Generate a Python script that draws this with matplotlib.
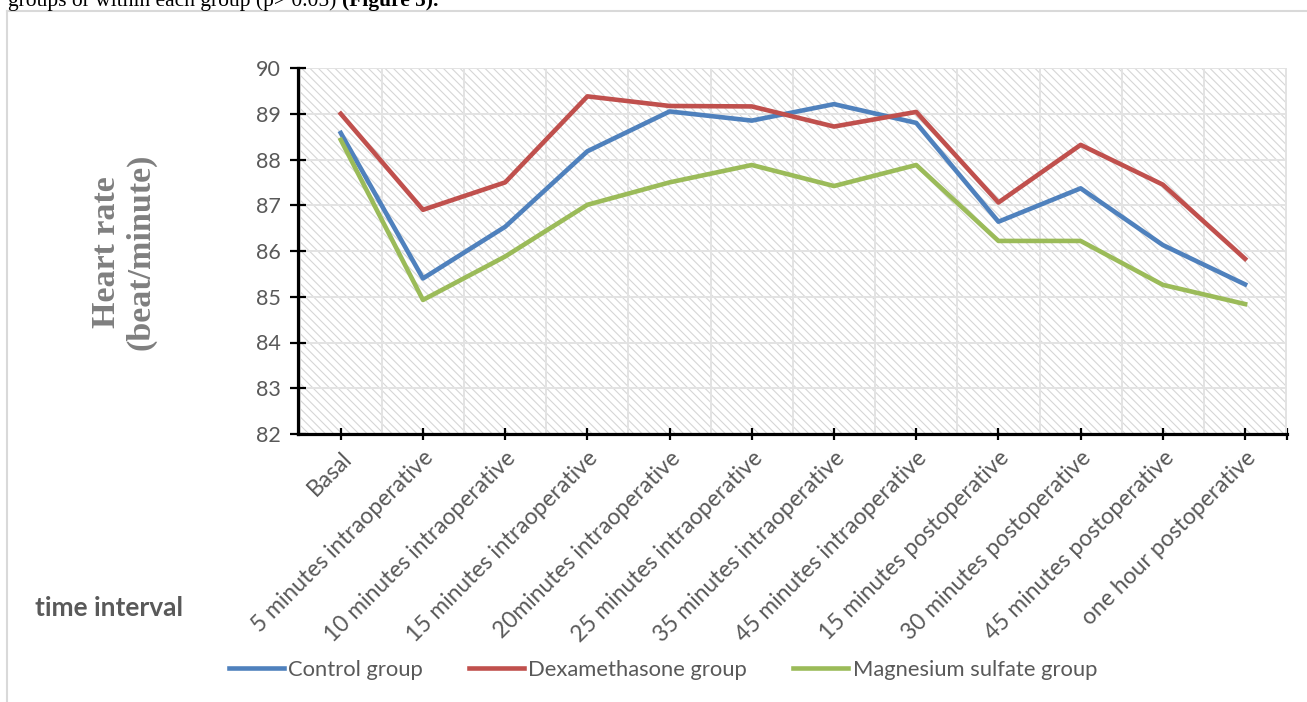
import numpy as np
import matplotlib.pyplot as plt
from matplotlib.patches import Rectangle
from matplotlib.lines import Line2D

categories = ['Basal', '5 minutes intraoperative', '10 minutes intraoperative',
              '15 minutes intraoperative', '20minutes intraoperative',
              '25 minutes intraoperative', '35 minutes intraoperative',
              '45 minutes intraoperative', '15 minutes postoperative',
              '30 minutes postoperative', '45 minutes postoperative',
              'one hour postoperative']
control = [88.58, 85.40, 86.53, 88.18, 89.05, 88.85, 89.21, 88.80, 86.64, 87.37, 86.13, 85.27]
dexa = [89.00, 86.90, 87.50, 89.38, 89.17, 89.16, 88.72, 89.04, 87.06, 88.32, 87.45, 85.83]
magnesium = [88.43, 84.93, 85.88, 87.01, 87.50, 87.88, 87.42, 87.88, 86.22, 86.22, 85.26, 84.84]
y_ticks = [82, 83, 84, 85, 86, 87, 88, 89, 90]

plt.rcParams['font.family'] = ['Lato', 'DejaVu Sans']
plt.rcParams['hatch.linewidth'] = 0.8

fig = plt.figure(figsize=(13.07, 7.02), dpi=100)
ax = fig.add_axes([298 / 1307, 1 - 434 / 702, (1287 - 298) / 1307, (434 - 68) / 702])

# hatched plot background
bg = Rectangle((0, 0), 1, 1, transform=ax.transAxes, facecolor='white',
               edgecolor='#d6d6d6', hatch='\\\\\\\\', linewidth=0, zorder=0)
ax.add_patch(bg)

x = np.arange(len(categories))
ax.plot(x, control, color='#4F81BD', lw=3.3, label='Control group', zorder=3)
ax.plot(x, dexa, color='#C0504D', lw=3.3, label='Dexamethasone group', zorder=3)
ax.plot(x, magnesium, color='#9BBB59', lw=3.3, label='Magnesium sulfate group', zorder=3)

ax.set_xlim(-0.52, 11.51)
ax.set_ylim(82, 90)

ax.set_yticks(y_ticks)
ax.set_xticks(list(x) + [11.51])
ax.set_xticklabels(categories + [''], rotation=45, ha='right', rotation_mode='anchor')
ax.set_xticks(np.arange(-0.5, 11.6, 0.5), minor=True)

ax.set_axisbelow(True)
ax.grid(axis='y', which='major', color='#e3e3e3', lw=1.4, zorder=1)
ax.grid(axis='x', which='minor', color='#e3e3e3', lw=1.4, zorder=1)
ax.grid(axis='x', which='major', visible=False)

for side in ['top', 'right']:
    ax.spines[side].set_visible(False)
for side in ['left', 'bottom']:
    ax.spines[side].set_linewidth(2.3)
    ax.spines[side].set_color('black')

ax.tick_params(axis='y', direction='inout', length=11, width=1.6, pad=7,
               labelsize=15.5, labelcolor='#595959')
ax.tick_params(axis='x', direction='inout', length=9, width=1.6, pad=5,
               labelsize=16.5, labelcolor='#595959')
ax.tick_params(axis='x', which='minor', length=0)

fig.text(124 / 1307, 1 - 252 / 702, 'Heart rate\n(beat/minute)', rotation=90,
         ha='center', va='center', fontsize=24.5, fontweight='bold',
         family='Liberation Serif', color='#7f7f7f', linespacing=1.15)
fig.text(109 / 1307, 1 - 608 / 702, 'time interval', ha='center', va='center',
         fontsize=19, fontweight='bold', color='#595959')

fig.legend(loc='center', bbox_to_anchor=(663 / 1307, 1 - 670 / 702), ncol=3,
           frameon=False, fontsize=15.8, handlelength=2.5, handletextpad=0.2,
           columnspacing=2.1, labelcolor='#595959')

# chart frame and the caption line above it
fig.add_artist(Line2D([7 / 1307, 7 / 1307], [0, 1 - 11 / 702], color='#d9d9d9', lw=1.5))
fig.add_artist(Line2D([7 / 1307, 1], [1 - 11 / 702, 1 - 11 / 702], color='#d9d9d9', lw=1.5))
t1 = fig.text(8 / 1307, 1 - 11 / 702, 'groups or within each group (p> 0.05) ',
              ha='left', va='bottom', fontsize=15.5, family='Liberation Serif', color='black')
fig.add_artist(plt.Annotation('(Figure 5).', xy=(1, 0), xycoords=t1, ha='left', va='bottom',
                              fontsize=15.5, family='Liberation Serif', fontweight='bold',
                              color='black'))

fig.savefig('out.png', dpi=100)
